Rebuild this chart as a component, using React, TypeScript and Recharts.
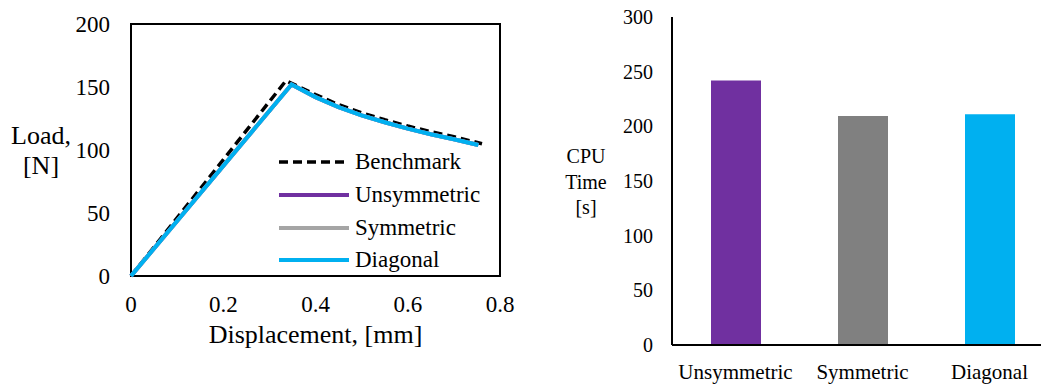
import {
  LineChart,
  Line,
  XAxis,
  YAxis,
  ReferenceArea,
  BarChart,
  Bar,
  Cell,
} from 'recharts'

const FONT = '"Liberation Serif", "Times New Roman", serif'

// Load-displacement curves
const DISP_BENCH = [0, 0.336, 0.4, 0.45, 0.5, 0.55, 0.6, 0.65, 0.7, 0.761]
const LOAD_BENCH = [0, 155, 144, 136, 129.5, 124, 119, 114.5, 110.5, 105]
const DISP_NUM = [0, 0.348, 0.4, 0.45, 0.5, 0.55, 0.6, 0.65, 0.7, 0.753]
const LOAD_UNSYM = [0, 152, 142, 134, 127.5, 122, 117, 112.5, 108.5, 104]
const LOAD_SYM = [0, 152, 142, 134, 127.5, 122, 117, 112.5, 108.5, 104]
const LOAD_DIAG = [0, 152, 142, 134, 127.5, 122, 117, 112.5, 108.5, 104]

const X_TICKS = [0, 0.2, 0.4, 0.6, 0.8]
const Y_TICKS = [0, 50, 100, 150, 200]

// CPU time bar chart
const METHODS = ['Unsymmetric', 'Symmetric', 'Diagonal']
const CPU_TIME = [242, 209.5, 211]
const CPU_TICKS = [0, 50, 100, 150, 200, 250, 300]

const toPoints = (xs: number[], ys: number[]) => xs.map((x, i) => ({ disp: x, load: ys[i] }))

const SERIES = [
  { name: 'Benchmark', data: toPoints(DISP_BENCH, LOAD_BENCH), color: '#000000', width: 3.5, dash: '9 5' },
  { name: 'Unsymmetric', data: toPoints(DISP_NUM, LOAD_UNSYM), color: '#7030A0', width: 4, dash: undefined },
  { name: 'Symmetric', data: toPoints(DISP_NUM, LOAD_SYM), color: '#A5A5A5', width: 4, dash: undefined },
  { name: 'Diagonal', data: toPoints(DISP_NUM, LOAD_DIAG), color: '#00B0F0', width: 4, dash: undefined },
]

const barData = METHODS.map((m, i) => ({ method: m, time: CPU_TIME[i] }))
const BAR_COLORS = ['#7030A0', '#808080', '#00B0F0']

// legend sits inside the plot box, drawn as plain html over the chart
function LineLegend() {
  return (
    <div
      style={{
        position: 'absolute',
        left: 279,
        top: 146,
        fontFamily: FONT,
        fontSize: 23,
        color: '#000',
      }}
    >
      {SERIES.map(s => (
        <div key={s.name} style={{ display: 'flex', alignItems: 'center', height: 32.7 }}>
          <svg width={70} height={10} style={{ marginRight: 6 }}>
            <line
              x1={0}
              y1={5}
              x2={70}
              y2={5}
              stroke={s.color}
              strokeWidth={s.width}
              strokeDasharray={s.dash}
            />
          </svg>
          <span>{s.name}</span>
        </div>
      ))}
    </div>
  )
}

const tickStyle = (size: number) => ({ fill: '#000', fontSize: size, fontFamily: FONT })

export default function App() {
  return (
    <div
      style={{
        position: 'absolute',
        left: 0,
        top: 0,
        width: 1041,
        height: 386,
        overflow: 'hidden',
        background: '#fff',
        fontFamily: FONT,
      }}
    >
      <style>{`.recharts-text, .recharts-cartesian-axis-tick-value { font-family: ${FONT}; }`}</style>

      {/* left: load vs displacement */}
      <div style={{ position: 'absolute', left: 0, top: 0 }}>
        <LineChart width={520} height={386} margin={{ top: 24, right: 20, bottom: 50, left: 71 }}>
          <XAxis
            type="number"
            dataKey="disp"
            domain={[0, 0.8]}
            ticks={X_TICKS}
            tickFormatter={v => String(v)}
            axisLine={false}
            tickLine={false}
            tickMargin={14}
            height={60}
            tick={tickStyle(23)}
            allowDuplicatedCategory={false}
          />
          <YAxis
            type="number"
            dataKey="load"
            domain={[0, 200]}
            ticks={Y_TICKS}
            axisLine={false}
            tickLine={false}
            tickMargin={15}
            width={60}
            tick={tickStyle(23)}
          />
          <ReferenceArea x1={0} x2={0.8} y1={0} y2={200} fill="none" stroke="#000" strokeWidth={2} ifOverflow="visible" />
          {SERIES.map(s => (
            <Line
              key={s.name}
              data={s.data}
              dataKey="load"
              name={s.name}
              type="linear"
              stroke={s.color}
              strokeWidth={s.width}
              strokeDasharray={s.dash}
              dot={false}
              isAnimationActive={false}
            />
          ))}
        </LineChart>
        <LineLegend />
        <div
          style={{
            position: 'absolute',
            left: 0,
            top: 121,
            width: 82,
            textAlign: 'center',
            fontSize: 26,
            lineHeight: '30px',
          }}
        >
          Load,
          <br />
          [N]
        </div>
        <div
          style={{
            position: 'absolute',
            left: 131,
            top: 320,
            width: 369,
            textAlign: 'center',
            fontSize: 26,
            lineHeight: '30px',
          }}
        >
          Displacement, [mm]
        </div>
      </div>

      {/* right: CPU time bars; plot runs a bit past the picture's right edge */}
      <div style={{ position: 'absolute', left: 520, top: 0 }}>
        <BarChart width={534} height={386} data={barData} margin={{ top: 17, right: 1, bottom: 6, left: 92 }} barSize={50}>
          <XAxis
            dataKey="method"
            axisLine={{ stroke: '#000', strokeWidth: 2 }}
            tickLine={false}
            tickMargin={13}
            height={35}
            tick={tickStyle(21)}
            interval={0}
          />
          <YAxis
            domain={[0, 300]}
            ticks={CPU_TICKS}
            axisLine={{ stroke: '#000', strokeWidth: 2 }}
            tickLine={false}
            tickMargin={13}
            width={60}
            tick={tickStyle(20)}
          />
          <Bar dataKey="time" isAnimationActive={false}>
            {barData.map((d, i) => (
              <Cell key={d.method} fill={BAR_COLORS[i]} />
            ))}
          </Bar>
        </BarChart>
        <div
          style={{
            position: 'absolute',
            left: 36,
            top: 144,
            width: 60,
            textAlign: 'center',
            fontSize: 20,
            lineHeight: '25.5px',
          }}
        >
          CPU
          <br />
          Time
          <br />
          [s]
        </div>
      </div>
    </div>
  )
}
